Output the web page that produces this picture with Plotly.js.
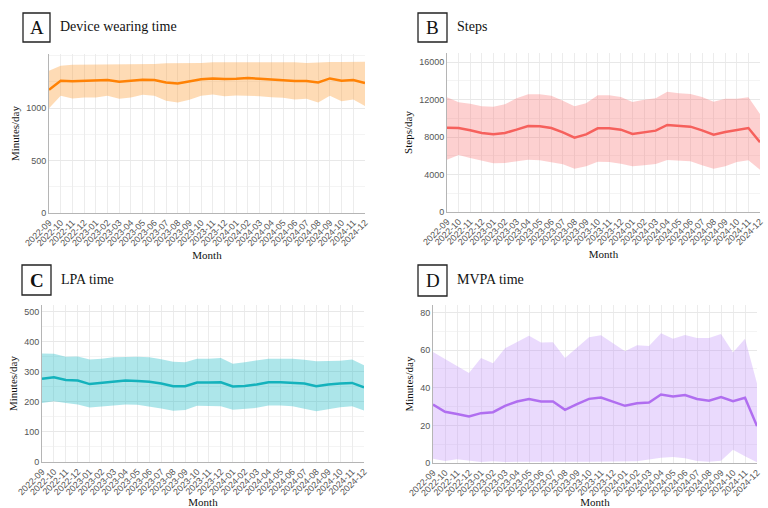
<!DOCTYPE html>
<html>
<head>
<meta charset="utf-8">
<script src="https://cdn.plot.ly/plotly-3.0.1.min.js"></script>
<style>
  html, body { margin: 0; padding: 0; background: #fff; }
  #chart { width: 768px; height: 508px; }
</style>
</head>
<body>
<div id="chart"></div>
<script>
// months on the x axis (same for all four panels)
var months = ['2022-09','2022-10','2022-11','2022-12','2023-01','2023-02','2023-03','2023-04',
  '2023-05','2023-06','2023-07','2023-08','2023-09','2023-10','2023-11','2023-12',
  '2024-01','2024-02','2024-03','2024-04','2024-05','2024-06','2024-07','2024-08',
  '2024-09','2024-10','2024-11','2024-12'];

// A - device wearing time (minutes/day)
var wearMean  = [1176,1262,1256,1259,1262,1268,1252,1262,1272,1268,1246,1236,1256,1275,1284,1278,
  1281,1287,1281,1272,1268,1259,1259,1246,1284,1262,1268,1240];
var wearUpper = [1358,1406,1415,1415,1422,1422,1415,1422,1422,1422,1428,1428,1428,1431,1438,1438,
  1438,1441,1441,1441,1438,1438,1431,1438,1441,1441,1441,1444];
var wearLower = [1000,1118,1093,1102,1102,1118,1089,1102,1128,1118,1070,1054,1080,1118,1131,1115,
  1121,1121,1115,1105,1099,1083,1089,1054,1118,1067,1083,1022];

// B - steps/day
var stepMean  = [8996,8960,8711,8427,8284,8427,8782,9173,9138,8960,8498,7929,8284,8924,8924,8782,
  8320,8533,8676,9280,9173,9102,8711,8249,8533,8747,8960,7431];
var stepUpper = [12231,11698,11556,11271,11236,11484,12124,12551,12551,12409,11876,11271,11591,12444,12444,12267,
  11733,11982,12124,12836,12658,12587,12267,11769,12089,12089,12231,10453];
var stepLower = [5582,6080,5760,5476,5191,5227,5404,5582,5511,5333,5084,4622,4871,5369,5333,5156,
  4871,4978,5120,5547,5476,5404,4978,4622,4871,5333,5511,4516];

// C - LPA time (minutes/day)
var lpaMean  = [277,282,273,271,259,263,268,271,269,267,261,252,252,264,264,265,
  251,253,258,265,265,264,261,252,258,261,263,248];
var lpaUpper = [361,360,350,351,341,343,348,350,350,348,342,333,332,343,343,346,
  327,332,337,343,343,343,340,335,336,337,341,322];
var lpaLower = [196,202,196,191,181,184,187,191,190,185,178,170,173,187,187,185,
  174,176,180,188,188,185,178,169,175,182,185,171];

// D - MVPA time (minutes/day)
var mvpaMean  = [31.1,27.2,26.1,24.7,26.5,27.0,30.4,32.7,34.0,32.7,32.7,28.3,31.3,34.1,34.8,32.4,
  30.4,31.8,32.2,36.4,35.4,36.1,34.0,33.1,35.0,32.9,34.7,19.6];
var mvpaUpper = [59.0,55.3,51.4,47.8,55.8,53.0,61.0,64.2,67.6,64.0,64.2,55.8,61.5,66.8,67.9,63.6,
  59.4,62.6,62.2,69.0,66.1,68.1,66.5,66.5,68.6,58.8,66.0,42.3];
var mvpaLower = [2.3,1.1,2.0,1.2,0.5,0.9,0.5,0.6,0.8,0.6,0.6,0.5,0.6,0.7,0.8,0.7,
  0.8,0.9,1.8,2.8,3.2,2.5,1.1,0.7,1.2,7.1,3.6,0.4];

// y tick labels per panel
var wearTicks = [0, 500, 1000];
var stepTicks = [0, 4000, 8000, 12000, 16000];
var lpaTicks = [0, 100, 200, 300, 400, 500];
var mvpaTicks = [0, 20, 40, 60, 80];

var panels = [
  {mean: wearMean, up: wearUpper, lo: wearLower, line: '#ff8205', fill: 'rgba(253,160,60,0.38)',
   ytitle: 'Minutes/day', range: [0, 1517], ticks: wearTicks, minor: 250},
  {mean: stepMean, up: stepUpper, lo: stepLower, line: '#f6605c', fill: 'rgba(250,110,110,0.32)',
   ytitle: 'Steps/day', range: [0, 16960], ticks: stepTicks, minor: 2000},
  {mean: lpaMean, up: lpaUpper, lo: lpaLower, line: '#14b2bc', fill: 'rgba(40,190,200,0.38)',
   ytitle: 'Minutes/day', range: [0, 522], ticks: lpaTicks, minor: 50},
  {mean: mvpaMean, up: mvpaUpper, lo: mvpaLower, line: '#b06ef0', fill: 'rgba(190,140,250,0.32)',
   ytitle: 'Minutes/day', range: [0, 84], ticks: mvpaTicks, minor: 10}
];

// plot areas in pixels: [left, right, top, bottom]
var boxes = [[49, 365, 54, 213], [447, 760, 53, 212], [42, 364, 305, 462], [433, 757, 305, 463]];
var W = 768, H = 508;

var data = [];
var layout = {
  width: W, height: H,
  margin: {l: 0, r: 0, t: 0, b: 0},
  paper_bgcolor: '#fff', plot_bgcolor: '#fff',
  showlegend: false,
  font: {family: 'Liberation Sans, Arial, sans-serif', size: 9, color: '#555'},
  shapes: [], annotations: []
};

panels.forEach(function (p, i) {
  var n = i === 0 ? '' : String(i + 1);
  var xa = 'x' + n, ya = 'y' + n;
  data.push({x: months, y: p.lo, xaxis: xa, yaxis: ya, type: 'scatter', mode: 'lines',
    line: {width: 0}, hoverinfo: 'skip'});
  data.push({x: months, y: p.up, xaxis: xa, yaxis: ya, type: 'scatter', mode: 'lines',
    line: {width: 0}, fill: 'tonexty', fillcolor: p.fill, hoverinfo: 'skip'});
  data.push({x: months, y: p.mean, xaxis: xa, yaxis: ya, type: 'scatter', mode: 'lines',
    line: {color: p.line, width: 2.5}});

  var b = boxes[i];
  layout['xaxis' + n] = {
    type: 'category', anchor: ya, domain: [b[0] / W, b[1] / W], range: [0, months.length - 1],
    tickangle: -45, showgrid: true, gridcolor: '#ececec', showline: true, linecolor: '#b5b5b5',
    ticks: '', zeroline: false, automargin: false,
    tickfont: {size: 9, color: '#555'},
    title: {text: 'Month', font: {family: 'Liberation Serif, Times New Roman, serif', size: 11, color: '#111'}, standoff: 4}
  };
  layout['yaxis' + n] = {
    anchor: xa, domain: [1 - b[3] / H, 1 - b[2] / H], range: p.range,
    tickmode: 'array', tickvals: p.ticks, ticktext: p.ticks.map(String),
    showgrid: true, gridcolor: '#e8e8e8', showline: true, linecolor: '#b5b5b5',
    minor: {dtick: p.minor, tick0: 0, showgrid: true, gridcolor: '#f4f4f4'},
    ticks: '', zeroline: false, automargin: false,
    tickfont: {size: 9, color: '#555'},
    title: {text: p.ytitle, font: {family: 'Liberation Serif, Times New Roman, serif', size: 11, color: '#111'}, standoff: 4}
  };
});

// panel letters in boxes and panel titles
var letters = ['A', 'B', 'C', 'D'];
var titles = ['Device wearing time', 'Steps', 'LPA time', 'MVPA time'];
var letterBoxes = [[23, 50, 13, 42], [418, 447, 13, 42], [22, 51, 265, 295], [418, 447, 265, 296]];
letterBoxes.forEach(function (lb, i) {
  layout.shapes.push({type: 'rect', xref: 'paper', yref: 'paper',
    x0: lb[0] / W, x1: lb[1] / W, y0: 1 - lb[3] / H, y1: 1 - lb[2] / H,
    line: {color: '#222', width: 1.3}, fillcolor: 'rgba(0,0,0,0)'});
  layout.annotations.push({xref: 'paper', yref: 'paper', showarrow: false,
    x: (lb[0] + lb[1]) / 2 / W, y: 1 - (lb[2] + lb[3]) / 2 / H,
    xanchor: 'center', yanchor: 'middle', text: i === 2 ? '<b>' + letters[i] + '</b>' : letters[i],
    font: {family: 'Liberation Serif, Times New Roman, serif', size: 19, color: '#111'}});
  layout.annotations.push({xref: 'paper', yref: 'paper', showarrow: false,
    x: (lb[1] + 8) / W, y: 1 - ((lb[2] + lb[3]) / 2 - 1) / H,
    xanchor: 'left', yanchor: 'middle', text: titles[i],
    font: {family: 'Liberation Serif, Times New Roman, serif', size: 14, color: '#111'}});
});

Plotly.newPlot('chart', data, layout, {displayModeBar: false, staticPlot: true});
</script>
</body>
</html>
